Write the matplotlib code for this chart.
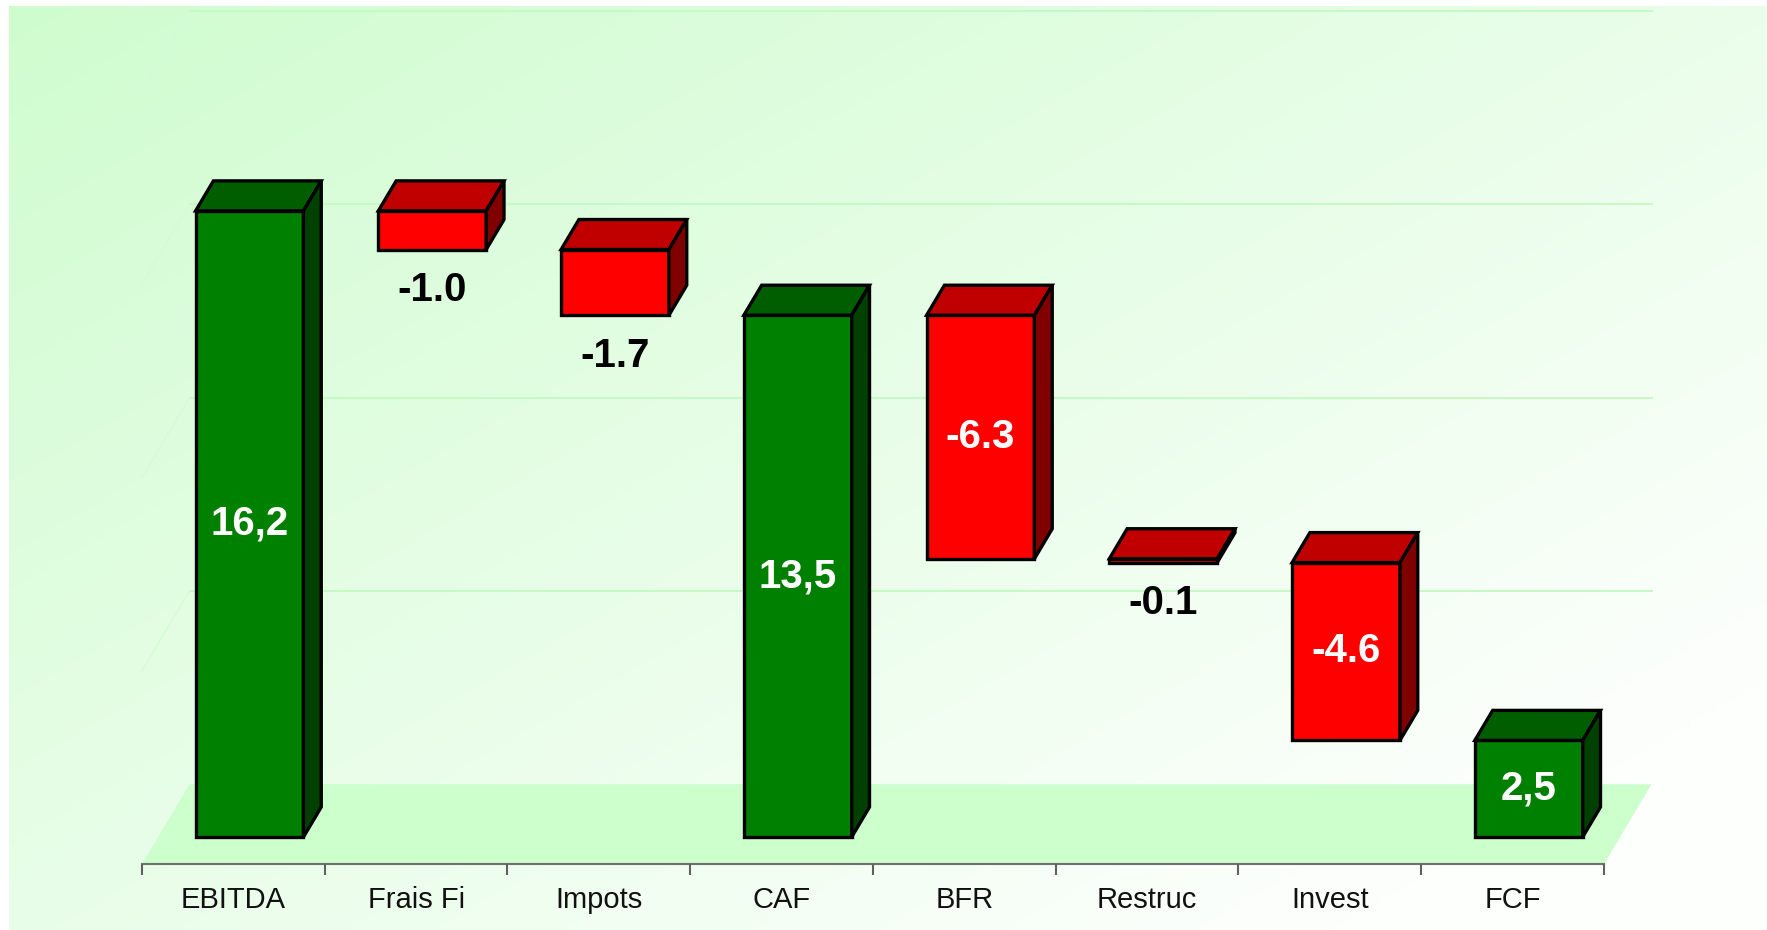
import numpy as np
import matplotlib
matplotlib.use('Agg')
import matplotlib.pyplot as plt
from matplotlib.patches import Polygon

plt.rcParams['font.family'] = ['Liberation Sans', 'DejaVu Sans']

# data
categories = ['EBITDA', 'Frais Fi', 'Impots', 'CAF', 'BFR', 'Restruc', 'Invest', 'FCF']
values = [16.2, -1.0, -1.7, 13.5, -6.3, -0.1, -4.6, 2.5]
is_total = [True, False, False, True, False, False, False, True]
value_labels = ['16,2', '-1.0', '-1.7', '13,5', '-6.3', '-0.1', '-4.6', '2,5']
grid_values = [5, 10, 15, 20]

# 3d look: oblique projection, z = depth from floor front (0) to back wall (1)
DX = 0.26      # depth shift in category units
DY = 2.07      # depth shift in value units
ZF, ZB = 0.34, 0.715
HALF_W = 0.295


def proj(x, v, z):
    return (x + z * DX, v + (z - ZF) * DY)


fig = plt.figure(figsize=(17.67, 9.30), dpi=100)

# gradient background
bg = fig.add_axes([9 / 1767, 0, 1 - 9 / 1767, 1 - 6 / 930])
bg.set_axis_off()
u = np.linspace(0, 1, 400)[None, :]
w = np.linspace(0, 1, 220)[:, None]
t = np.clip(0.6 * u + 0.55 * w, 0, 1)
c0 = np.array([207, 252, 207]) / 255
c1 = np.array([253, 255, 253]) / 255
img = c0[None, None, :] * (1 - t[..., None]) + c1[None, None, :] * t[..., None]
bg.imshow(img, aspect='auto', extent=[0, 1, 0, 1], interpolation='bilinear')
bg.set_xlim(0, 1)
bg.set_ylim(0, 1)

ax = fig.add_axes([0, 0, 1, 1])
ax.patch.set_alpha(0)
ax.set_axis_off()
ax.set_xlim(-1.277, 8.392)
ax.set_ylim(-2.406, 21.656)

n = len(categories)
x0, x1 = -0.5, n - 0.5

# floor
floor = [proj(x0, 0, 0), proj(x1, 0, 0), proj(x1, 0, 1), proj(x0, 0, 1)]
ax.add_patch(Polygon(floor, closed=True, facecolor='#ccffcc', edgecolor='none', zorder=1))

# gridlines on back wall and side wall
for g in grid_values:
    a, b = proj(x0, g, 1), proj(x1, g, 1)
    ax.plot([a[0], b[0]], [a[1], b[1]], color='#c4fac4', lw=1.4, zorder=1)
    c = proj(x0, g, 0)
    ax.plot([c[0], a[0]], [c[1], a[1]], color='#d4fbd4', lw=0.8, zorder=1)

# axis line and ticks
base_y = proj(0, 0, 0)[1]
ax.plot([x0, x1], [base_y, base_y], color='#707070', lw=1.5, zorder=2)
ax.vlines(np.arange(n + 1) - 0.5, base_y - 0.285, base_y, color='#606060', lw=1.5, zorder=2)
for i, cat in enumerate(categories):
    ax.text(i, base_y - 0.93, cat, ha='center', va='center', fontsize=21, color='#111111')

# waterfall bars
green = ('#008000', '#005e00', '#004000')
red = ('#ff0000', '#c00000', '#800000')
running = 0.0
for i, (val, tot, lab) in enumerate(zip(values, is_total, value_labels)):
    if tot:
        lo, hi = 0.0, val
        running = val
        cols = green
    else:
        lo, hi = running + val, running
        running = running + val
        cols = red
    xl, xr = i - HALF_W, i + HALF_W
    front = [proj(xl, lo, ZF), proj(xr, lo, ZF), proj(xr, hi, ZF), proj(xl, hi, ZF)]
    top = [proj(xl, hi, ZF), proj(xr, hi, ZF), proj(xr, hi, ZB), proj(xl, hi, ZB)]
    side = [proj(xr, lo, ZF), proj(xr, lo, ZB), proj(xr, hi, ZB), proj(xr, hi, ZF)]
    for poly, col in zip([front, top, side], cols):
        ax.add_patch(Polygon(poly, closed=True, facecolor=col, edgecolor='black',
                             lw=2.4, joinstyle='miter', zorder=3))
    cx = proj(i, 0, ZF)[0]
    if abs(val) >= 2:
        ax.text(cx, (lo + hi) / 2, lab, ha='center', va='center', fontsize=29,
                fontweight='bold', color='white', zorder=4)
    else:
        ax.text(cx, lo - 1.05, lab, ha='center', va='center', fontsize=29,
                fontweight='bold', color='black', zorder=4)

fig.savefig('out.png', dpi=100)
